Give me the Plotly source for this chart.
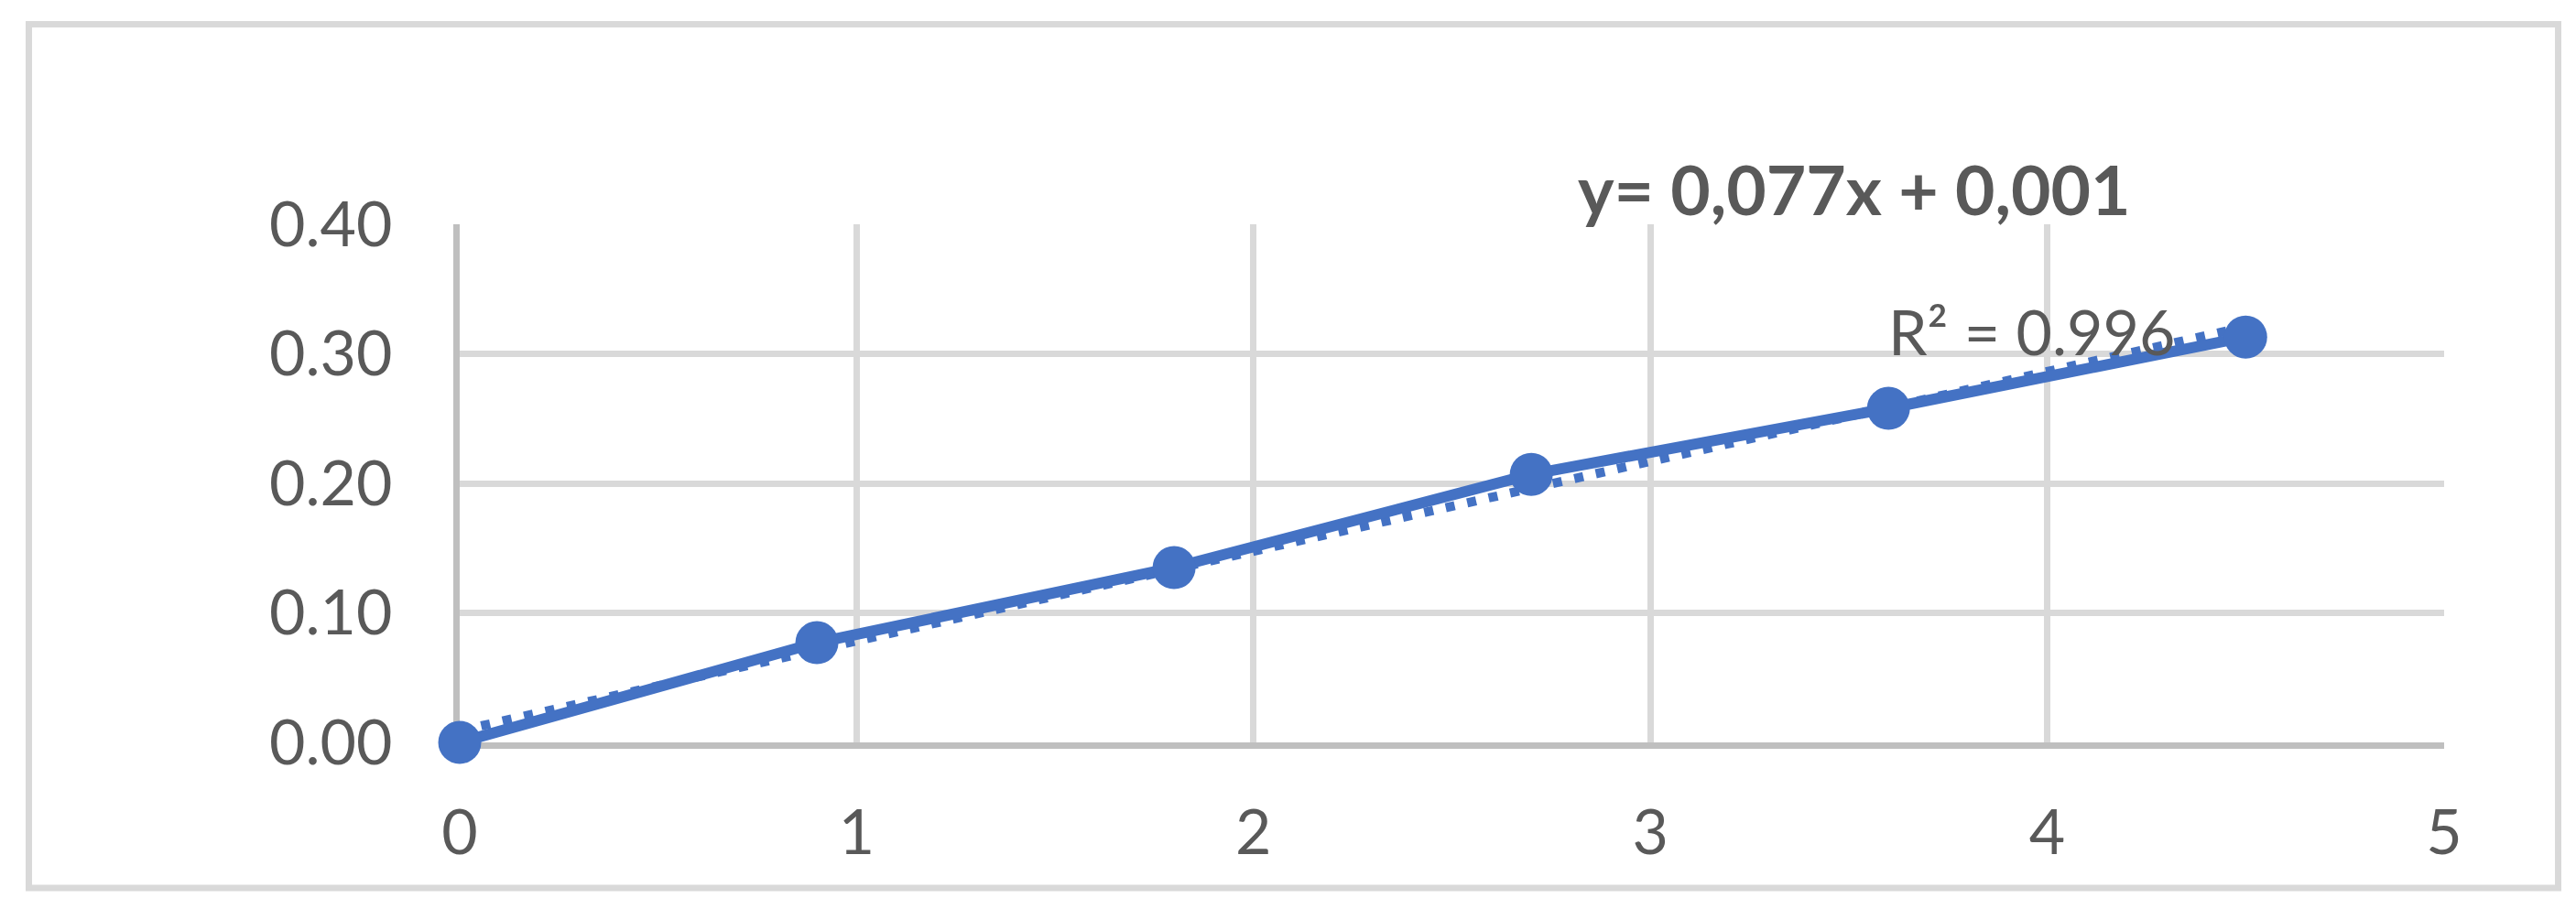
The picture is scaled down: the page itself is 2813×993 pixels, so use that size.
import plotly.graph_objects as go

# measured data
x_values = [0, 0.9, 1.8, 2.7, 3.6, 4.5]
y_values = [0.000, 0.077, 0.135, 0.207, 0.258, 0.313]

# linear trendline (ends)
trend_x = [0, 4.5]
trend_y = [0.009, 0.321]

x_ticks = [0, 1, 2, 3, 4, 5]
x_tick_labels = ['0', '1', '2', '3', '4', '5']
y_ticks = [0.0, 0.1, 0.2, 0.3, 0.4]
y_tick_labels = ['0.00', '0.10', '0.20', '0.30', '0.40']

equation_text = 'y= 0,077x + 0,001'
r2_text = 'R² = 0.996'

# the page body has an 8px margin, so the figure is a bit smaller than the window
OFFSET = 8
W, H = 2813 - 2 * OFFSET, 993 - 2 * OFFSET
# plot area in window pixels
PLOT_L, PLOT_R, PLOT_T, PLOT_B = 502, 2669, 245, 811

BLUE = '#4472C4'
GRID = '#D9D9D9'
AXIS = '#BFBFBF'
TEXT = '#595959'
FONT = 'Lato'


def px_x(px):
    return (px - PLOT_L) / (PLOT_R - PLOT_L)


def px_y(py):
    return (PLOT_B - py) / (PLOT_B - PLOT_T)


fig = go.Figure()

fig.add_trace(go.Scatter(
    x=trend_x,
    y=trend_y,
    mode='lines',
    line=dict(color=BLUE, width=10, dash='10px,14px'),
    hoverinfo='skip',
    cliponaxis=False,
))
fig.add_trace(go.Scatter(
    x=x_values,
    y=y_values,
    mode='lines+markers',
    line=dict(color=BLUE, width=12),
    marker=dict(color=BLUE, size=47, line=dict(width=0)),
    cliponaxis=False,
))

fig.update_layout(
    width=W,
    height=H,
    margin=dict(
        l=PLOT_L - OFFSET,
        r=W - (PLOT_R - OFFSET),
        t=PLOT_T - OFFSET,
        b=H - (PLOT_B - OFFSET),
        pad=0,
    ),
    paper_bgcolor='white',
    plot_bgcolor='white',
    showlegend=False,
    font=dict(family=FONT, color=TEXT, size=68),
    xaxis=dict(
        range=[0, 5.0001],
        tickvals=x_ticks,
        ticktext=x_tick_labels,
        showgrid=True,
        gridcolor=GRID,
        gridwidth=7,
        zeroline=False,
        showline=True,
        linecolor=AXIS,
        linewidth=7,
        ticks='',
        ticklabelstandoff=33,
        layer='below traces',
        fixedrange=True,
    ),
    yaxis=dict(
        range=[0, 0.4001],
        tickvals=y_ticks,
        ticktext=y_tick_labels,
        showgrid=True,
        gridcolor=GRID,
        gridwidth=7,
        zeroline=False,
        showline=True,
        linecolor=AXIS,
        linewidth=7,
        ticks='',
        ticklabelstandoff=53,
        layer='below traces',
        fixedrange=True,
    ),
)

# chart border
fig.add_shape(
    type='rect',
    xref='paper', yref='paper',
    x0=px_x(31.5), x1=px_x(2793.5),
    y0=px_y(970), y1=px_y(26.5),
    line=dict(color=GRID, width=7),
    fillcolor='rgba(0,0,0,0)',
    layer='below',
)

fig.add_annotation(
    text=equation_text,
    xref='paper', yref='paper',
    x=px_x(2025), y=px_y(206),
    xanchor='center', yanchor='middle',
    showarrow=False,
    font=dict(family=FONT, size=75, color=TEXT, weight='bold'),
)
fig.add_annotation(
    text=r2_text,
    xref='paper', yref='paper',
    x=px_x(2218), y=px_y(361),
    xanchor='center', yanchor='middle',
    showarrow=False,
    font=dict(family=FONT, size=68, color=TEXT),
)

fig.write_html('out.html')
